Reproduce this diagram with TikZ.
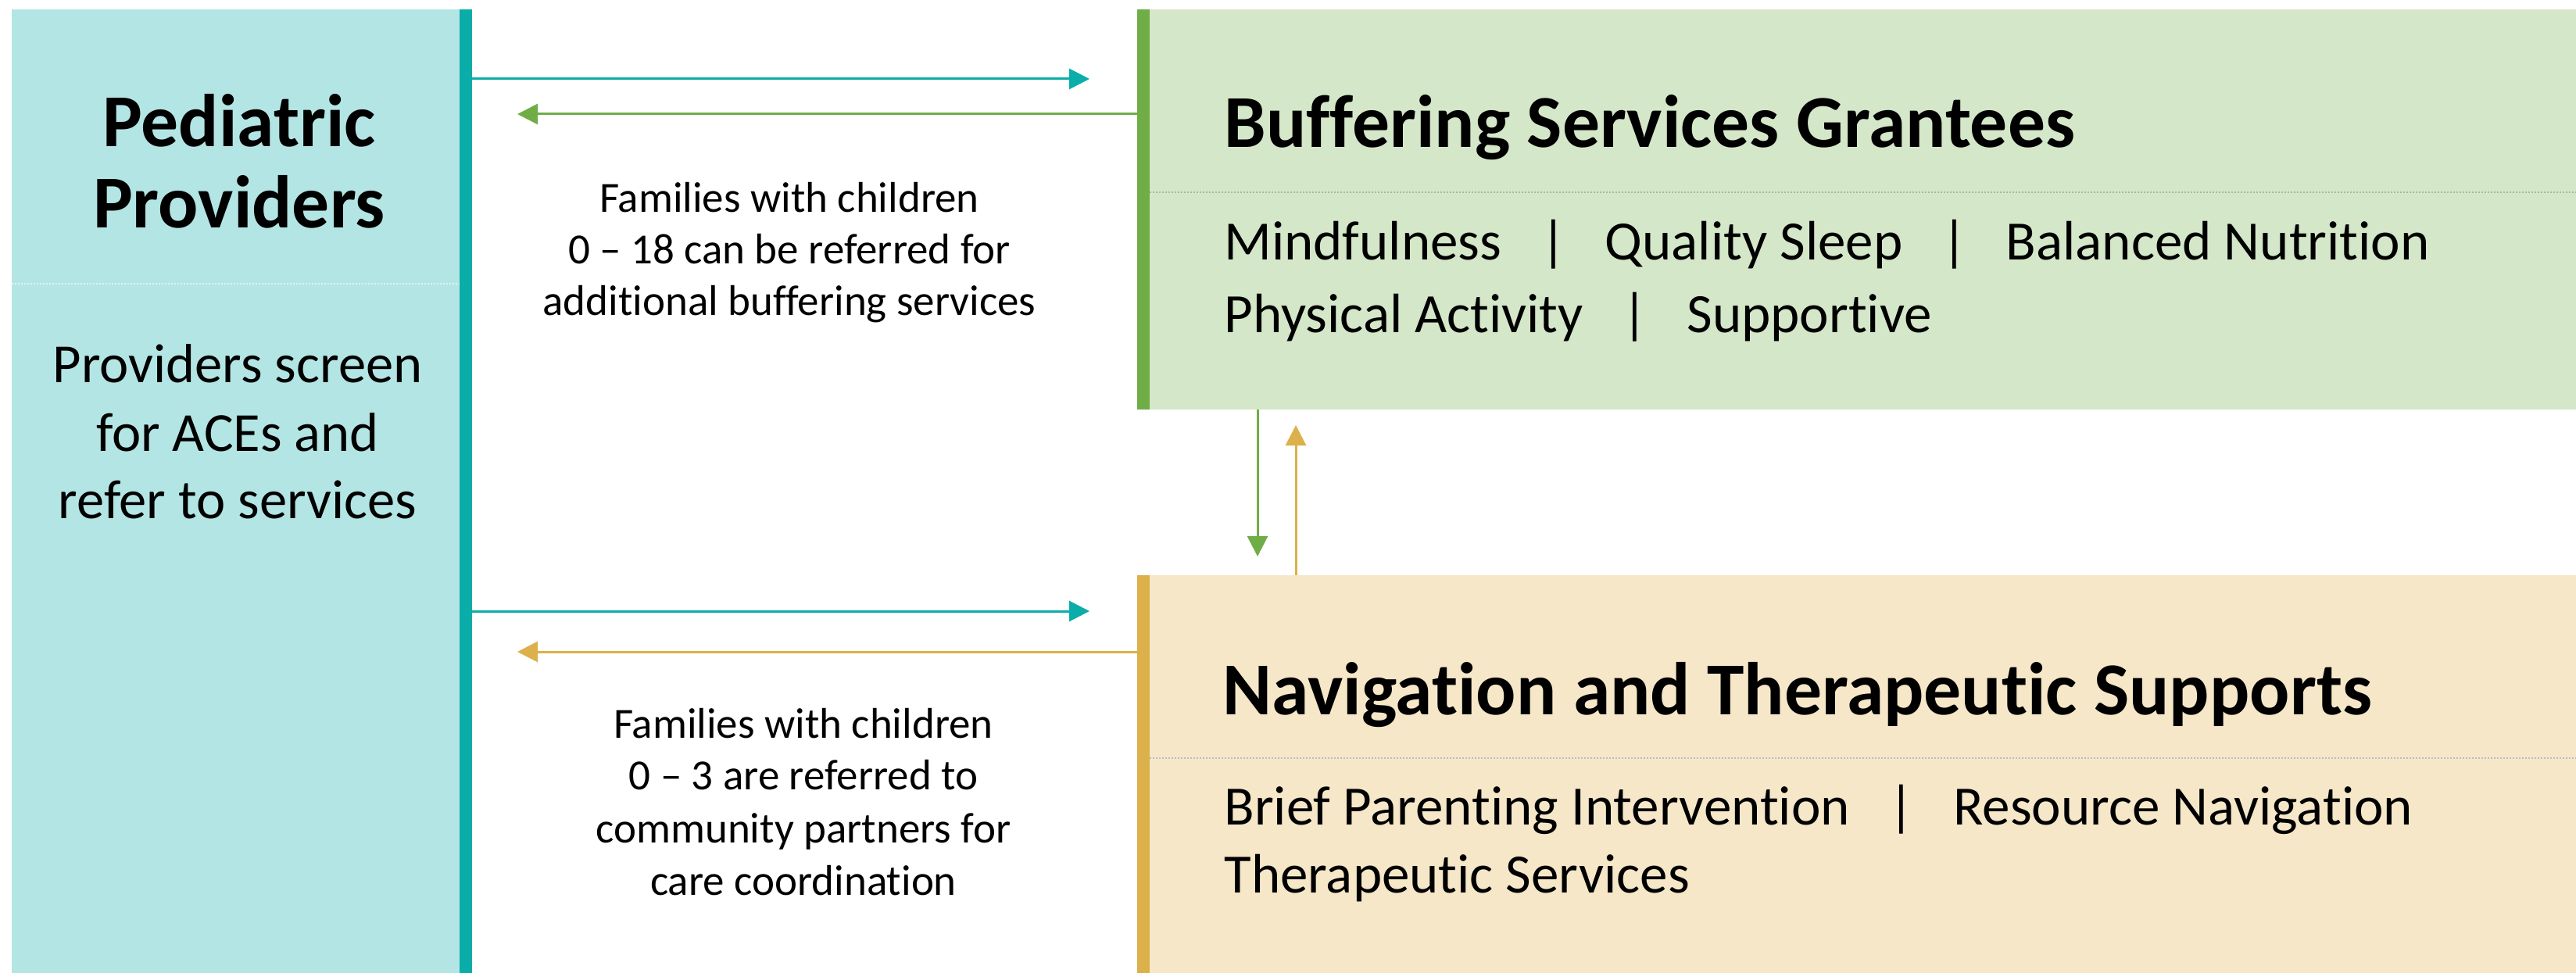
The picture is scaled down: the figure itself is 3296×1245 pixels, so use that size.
\documentclass[tikz,border=0pt]{standalone}
\usepackage{fontspec}
\setmainfont{Carlito}[Ligatures=NoCommon]
\usetikzlibrary{arrows.meta}
\definecolor{lblue}{HTML}{B4E5E5}
\definecolor{tealc}{HTML}{0AADA8}
\definecolor{lgreen}{HTML}{D4E7C9}
\definecolor{greenc}{HTML}{70AD47}
\definecolor{ltan}{HTML}{F5E7C8}
\definecolor{goldc}{HTML}{DCB04A}
\definecolor{dotw}{HTML}{E2F4F4}
\definecolor{dotg}{HTML}{A8B8A0}
\definecolor{dott}{HTML}{B9BCC6}
\tikzset{
  panel/.style={anchor=north west, inner sep=0pt, outer sep=0pt, draw=none},
  arr/.style={line width=1.5pt, -{Triangle[length=13pt,width=13pt]}},
  dotsep/.style={line width=1pt, dash pattern=on 1pt off 1pt},
  ttl/.style={inner sep=0pt, font=\fontsize{47.8}{52}\selectfont\bfseries},
  bodyt/.style={inner sep=0pt, anchor=base, font=\fontsize{35.3}{43}\selectfont},
  itemt/.style={inner sep=0pt, anchor=base west, font=\fontsize{35.5}{43}\selectfont},
  midt/.style={inner sep=0pt, anchor=base, font=\fontsize{27.5}{33}\selectfont},
}
\newcommand{\barsep}{\hspace{25pt}|\hspace{25pt}}
\begin{document}
\begin{tikzpicture}[x=0.5pt,y=-0.5pt]
\useasboundingbox (0,0) rectangle (3296,1245);
\fill[white] (0,0) rectangle (3296,1245);

% panels
\node[panel, fill=lblue, minimum width=286.5pt, minimum height=616.5pt] (prov) at (15,12) {};
\node[panel, fill=tealc, minimum width=8pt, minimum height=616.5pt] (provbar) at (588,12) {};
\node[panel, fill=lgreen, minimum width=912.5pt, minimum height=256pt] (buff) at (1471,12) {};
\node[panel, fill=greenc, minimum width=8pt, minimum height=256pt] (buffbar) at (1455,12) {};
\node[panel, fill=ltan, minimum width=912.5pt, minimum height=254.5pt] (nav) at (1471,736) {};
\node[panel, fill=goldc, minimum width=8pt, minimum height=254.5pt] (navbar) at (1455,736) {};

% dotted separators
\coordinate (d1) at (0,363);
\coordinate (d2) at (0,246);
\coordinate (d3) at (0,970);
\draw[dotsep, dotw] (prov.west |- d1) -- (prov.east |- d1);
\draw[dotsep, dotg] (buff.west |- d2) -- (buff.east |- d2);
\draw[dotsep, dott] (nav.west |- d3) -- (nav.east |- d3);

% left texts
\node[ttl, anchor=base] (pt1) at (306,188) {Pediatric};
\node[ttl, anchor=base] (pt2) at (306,292) {Providers};
\node[bodyt] (pb1) at (304,490) {Providers screen};
\node[bodyt] (pb2) at (304,577) {for ACEs and};
\node[bodyt] (pb3) at (304,663) {refer to services};

% middle texts
\node[midt] (m1) at (1010,272) {Families with children};
\node[midt] (m2) at (1010,338) {0 – 18 can be referred for};
\node[midt] (m3) at (1010,404) {additional buffering services};
\node[midt] (n1) at (1028,944) {Families with children};
\node[midt] (n2) at (1028,1010) {0 – 3 are referred to};
\node[midt] (n3) at (1028,1078) {community partners for};
\node[midt] (n4) at (1028,1145) {care coordination};

% right titles and items
\node[ttl, anchor=base west] (bt) at (1566,189) {Buffering Services Grantees};
\node[itemt] (bi1) at (1566,333) {Mindfulness\barsep Quality Sleep\barsep Balanced Nutrition};
\node[itemt] (bi2) at (1566,426) {Physical Activity\barsep Supportive};
\node[ttl, anchor=base west] (nt) at (1564,914) {Navigation and Therapeutic Supports};
\node[itemt] (ni1) at (1566,1055) {Brief Parenting Intervention\barsep Resource Navigation};
\node[itemt] (ni2) at (1566,1142) {Therapeutic Services};

% arrows
\coordinate (ta) at (1394,101);
\coordinate (ga) at (662,146);
\coordinate (tb) at (1394,782);
\coordinate (oa) at (662,834);
\coordinate (gv) at (1609,712);
\coordinate (ov) at (1658,544);
\draw[arr, tealc] (provbar.east |- ta) -- (ta);
\draw[arr, greenc] (buffbar.west |- ga) -- (ga);
\draw[arr, tealc] (provbar.east |- tb) -- (tb);
\draw[arr, goldc] (navbar.west |- oa) -- (oa);
\draw[arr, greenc] (buff.south -| gv) -- (gv);
\draw[arr, goldc] (nav.north -| ov) -- (ov);
\end{tikzpicture}
\end{document}
